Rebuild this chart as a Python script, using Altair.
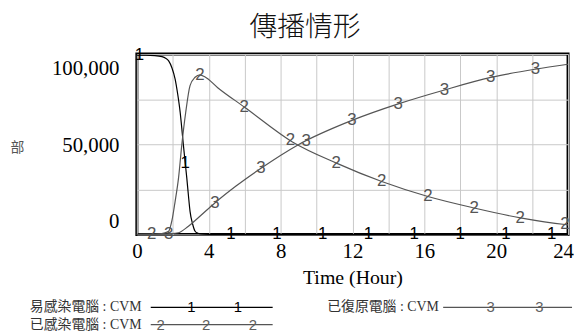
import altair as alt
import numpy as np
import pandas as pd

# ---------------- data ----------------
title_text = "傳播情形"
x_title = "Time (Hour)"
y_title = "部"
series_names = ["易感染電腦 : CVM", "已感染電腦 : CVM", "已復原電腦 : CVM"]
series_digits = ["1", "2", "3"]

# 易感染電腦 (susceptible)
t1 = [0, 0.5, 1.0, 1.4, 1.6, 1.77, 1.95, 2.13, 2.27, 2.41, 2.5, 2.59, 2.69, 2.78,
      2.87, 2.96, 3.1, 3.24, 3.4, 3.6, 4.0, 5, 8, 12, 16, 20, 24]
v1 = [117200, 117200, 117000, 116300, 115300, 113500, 109000, 101600, 92000, 79900,
      69500, 58400, 47000, 36800, 25500, 15100, 7000, 2100, 800, 300, 100, 40, 10, 5, 0, 0, 0]

# 已感染電腦 (infected)
t2 = [0, 0.83, 1.2, 1.5, 1.77, 1.95, 2.13, 2.32, 2.5, 2.72, 2.96, 3.24, 3.51, 3.8,
      4.5, 6.0, 8.66, 11.14, 13.63, 16.2, 18.77, 21.35, 23.83, 24]
v2 = [100, 200, 400, 900, 2100, 9000, 21600, 37000, 58400, 79900, 97300, 102800,
      104400, 103000, 96000, 83200, 60500, 46500, 34600, 24800, 17300, 10800, 6500, 6300]

# 已復原電腦 (recovered)
t3 = [0, 1.0, 1.77, 2.32, 2.87, 3.51, 4.34, 5.5, 6.91, 8.94, 11.97, 14.55, 17.12,
      19.70, 22.18, 24]
v3 = [0, 50, 400, 1100, 5400, 11900, 20600, 31500, 43300, 58400, 74600, 85400,
      94500, 102700, 108100, 111300]

# times of the numbered markers drawn along each line
m1 = [0.14, 2.69, 5.24, 7.79, 10.34, 12.89, 15.44, 17.99, 20.54, 23.09]
m2 = [0.83, 3.51, 5.97, 8.55, 11.1, 13.63, 16.2, 18.77, 21.33, 23.83]
m3 = [1.77, 4.34, 6.91, 9.42, 11.97, 14.55, 17.12, 19.70, 22.18]

x_ticks = [0, 4, 8, 12, 16, 20, 24]
x_grid = [0, 2, 4, 6, 8, 10, 12, 14, 16, 18, 20, 22, 24]
y_ticks = [0, 50000, 100000]
y_max = 118000
y_grid = [0, 29500, 59000, 88500, 118000]

# ---------------- tables ----------------
series_t = [t1, t2, t3]
series_v = [v1, v2, v3]
series_m = [m1, m2, m3]

rows = []
for name, ts, vs in zip(series_names, series_t, series_v):
    for t, v in zip(ts, vs):
        rows.append({"series": name, "t": t, "v": v})
df = pd.DataFrame(rows)

mrows = []
for name, dig, ts, vs, ms in zip(series_names, series_digits, series_t, series_v, series_m):
    for t in ms:
        mrows.append({"series": name, "digit": dig, "t": t,
                      "v": float(np.interp(t, ts, vs))})
dfm = pd.DataFrame(mrows)

# ---------------- styles ----------------
W, H = 435, 182
SERIF = "Liberation Serif"
line_colors = ["#000000", "#555555", "#555555"]
digit_colors = ["#000000", "#606060", "#606060"]

xscale = alt.Scale(domain=[0, 24], nice=False, zero=False)
yscale = alt.Scale(domain=[0, y_max], nice=False)
cscale = alt.Scale(domain=series_names, range=line_colors)
dscale = alt.Scale(domain=series_names, range=digit_colors)

last_x = x_ticks[-1]
x_axis = alt.Axis(values=x_grid, labelExpr="datum.value % 4 == 0 ? datum.label : ''",
                  grid=True, gridColor="#c8c8c8", gridWidth=1, ticks=False, domain=False,
                  labelFont=SERIF, labelFontSize=21, labelColor="black", labelPadding=6,
                  labelFlush=False,
                  labelOffset={"condition": {"test": f"datum.value == {last_x}", "value": -5},
                               "value": 0},
                  title=x_title, titleFont=SERIF, titleFontSize=20, titleFontWeight="normal",
                  titleColor="black", titlePadding=6)

y_grid_axis = alt.Axis(values=y_grid, grid=True, gridColor="#c8c8c8", gridWidth=1,
                       labels=False, ticks=False, domain=False, title=None, orient="right")

y_label_axis = alt.Axis(values=y_ticks, grid=False, ticks=False, domain=False,
                        format=",d", labelFont=SERIF, labelFontSize=21, labelColor="black",
                        labelPadding=18, labelOffset=-13, labelBaseline="middle",
                        title=y_title, titleFont="Noto Sans CJK TC", titleFontSize=14,
                        titleFontWeight="normal", titleColor="#555555", titleAngle=0,
                        titleAlign="center", titleBaseline="middle", titleX=-121, titleY=94)

lines = alt.Chart(df).mark_line(strokeWidth=1.2, interpolate="monotone").encode(
    x=alt.X("t:Q", scale=xscale, axis=x_axis),
    y=alt.Y("v:Q", scale=yscale, axis=y_grid_axis),
    color=alt.Color("series:N", scale=cscale, legend=None),
    order=alt.Order("t:Q"),
)

markers = alt.Chart(dfm).mark_text(font="Liberation Sans", fontSize=17,
                                   align="center", baseline="middle").encode(
    x=alt.X("t:Q", scale=xscale, axis=x_axis),
    y=alt.Y("v:Q", scale=yscale, axis=y_label_axis),
    text="digit:N",
    color=alt.Color("series:N", scale=dscale, legend=None),
)

# ---------------- hand-made legend under the plot ----------------
leg_font = f"{SERIF}, 'Noto Sans CJK TC'"
legend_layers = []
legend_spec = [
    # (series index, text x, row y, line x0, line x1, digit xs)
    (0, -108, 255.5, 14, 137, [55, 102]),
    (1, -108, 273, 14, 137, [24, 70, 117]),
    (2, 192, 255.5, 309, 439, [357, 406]),
]
for idx, tx, ry, lx0, lx1, dxs in legend_spec:
    lab = pd.DataFrame({"label": [series_names[idx]]})
    legend_layers.append(
        alt.Chart(lab).mark_text(font=leg_font, fontSize=14, align="left",
                                 baseline="middle", color="#333333").encode(
            text="label:N", x=alt.value(tx), y=alt.value(ry))
    )
    legend_layers.append(
        alt.Chart(lab).mark_rule(color=line_colors[idx], strokeWidth=1.2).encode(
            x=alt.value(lx0), x2=alt.value(lx1), y=alt.value(ry))
    )
    for dx in dxs:
        legend_layers.append(
            alt.Chart(lab).mark_text(font="Liberation Sans", fontSize=15, align="center",
                                     baseline="middle", color=digit_colors[idx]).encode(
                text=alt.value(series_digits[idx]), x=alt.value(dx), y=alt.value(ry))
        )

chart = alt.layer(lines, markers, *legend_layers).resolve_axis(y="independent").properties(
    width=W, height=H,
    title=alt.TitleParams(title_text, font="Noto Sans CJK TC", fontSize=28,
                          fontWeight=300, color="#111111", anchor="middle",
                          frame="group", dx=-48, offset=4),
    padding={"left": 130, "top": 45, "right": 6, "bottom": 99},
    autosize=alt.AutoSizeParams(type="none"),
).configure(background="white").configure_axis(titleFontWeight="normal").configure_view(
    stroke="black", strokeWidth=3)

chart.save("out.html", embed_options={"renderer": "svg", "actions": False})
